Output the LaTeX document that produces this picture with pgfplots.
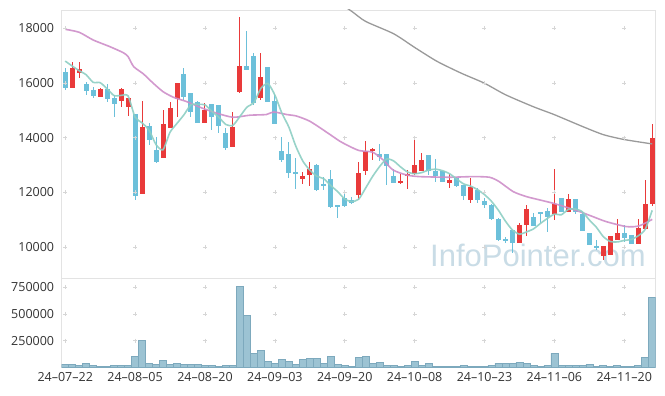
\documentclass[border=0pt]{standalone}
\usepackage{fontspec}
\setmainfont{Open Sans}
\newfontfamily\wmfont{Liberation Sans}
\usepackage{pgfplots}
\usepackage{pgfplotstable}
\pgfplotsset{compat=1.18}
\definecolor{cup}{HTML}{E93A3A}
\definecolor{cdn}{HTML}{6CC0DA}
\definecolor{mafive}{HTML}{8DCFC4}
\definecolor{matwenty}{HTML}{CE8EC9}
\definecolor{malong}{HTML}{9A9A9A}
\definecolor{volf}{HTML}{9CC3D3}
\definecolor{vold}{HTML}{7DA9BD}
\definecolor{framec}{HTML}{E3E3E3}
\definecolor{gridc}{HTML}{D6D6D6}
\definecolor{txt}{HTML}{333333}
\definecolor{wm}{HTML}{C9DCE6}

\pgfplotstableread{
i o h l c
1 15828 16780 15828 16536
2 16353 16780 16170 16500
5 15499 15830 15499 15767
8 15353 15810 15109 15775
9 15109 15438 14804 15438
11 11924 15340 11924 14377
14 13242 15011 13242 14499
15 14364 15292 14364 15072
16 15401 16000 14767 16000
20 14548 15255 14548 15011
24 13670 14926 13670 14402
25 15682 18402 15621 16621
28 15462 17085 15377 16225
34 12494 12734 12300 12605
35 12642 13110 12215 12843
42 11900 13120 11717 12693
43 12785 13885 12650 13522
44 13521 13608 13170 13585
48 12356 12669 12303 12422
49 12580 12833 12130 12675
50 12655 13920 12632 12990
51 12785 13425 12785 13172
55 12347 12682 12144 12443
58 11712 12515 11617 12192
65 10130 10885 10130 10810
66 10800 11530 10410 11395
70 11210 12860 11000 11580
72 11285 11935 11285 11768
77 9670 10030 9520 10030
78 9705 10395 9705 10395
79 10250 11040 10250 10515
82 10125 11035 10125 10695
83 10670 12450 10670 11576
84 11570 14500 11515 13990
}\upcandles

\pgfplotstableread{
i o h l c
0 16414 16536 15743 15828
3 15963 16048 15560 15719
4 15743 15865 15438 15530
6 15767 15950 15316 15414
7 15438 15560 14767 15235
10 14852 14852 11717 11876
12 14410 14524 13730 13925
13 13547 14011 13059 13120
17 16329 16536 15377 15499
18 15621 15621 14767 14950
19 15316 15340 14548 14548
21 15225 15225 14280 14767
22 15195 15195 14182 14438
23 14170 14370 13560 13634
26 16628 17902 16475 16475
27 16987 17109 15194 15280
29 16578 16578 15316 15316
30 15346 15584 14511 14511
31 13511 14035 13122 13183
32 13402 13829 12512 12719
33 12737 13250 12112 12712
36 13000 13035 12059 12085
37 12305 12571 12070 12243
38 12488 12800 11412 11476
39 11536 11536 11048 11475
40 11780 11961 11473 11512
41 11717 11839 11570 11595
45 13410 13770 13160 13292
46 13410 13410 12263 12966
47 12590 12870 12323 12325
52 13350 13350 12632 12785
53 12780 13230 12388 12597
54 12796 12796 12385 12385
56 12527 12563 12204 12240
57 12264 12264 11724 11880
59 12096 12156 11617 11736
60 11677 11796 11425 11533
61 11530 11557 10990 11010
62 11040 11054 10230 10240
63 10310 10381 10150 10235
64 10615 10615 9765 10130
67 11100 11235 10786 10786
68 11270 11270 10860 11220
69 11315 11435 10537 11090
71 11806 11806 11285 11285
73 11768 11768 11200 11285
74 11200 11285 10590 10590
75 10495 10510 10070 10070
76 10030 10250 9885 9950
80 10515 10795 10165 10335
81 10430 10430 10125 10125
}\downcandles

\pgfplotstableread{
i v
0 16800
1 16620
2 16450
3 16300
4 16024
5 16012
6 15787
7 15536
8 15545
9 15526
10 14748
11 14540
12 14274
13 13745
14 13557
15 14196
16 14521
17 14838
18 15204
19 15214
20 15202
21 14955
22 14743
23 14479
24 14450
25 14772
26 15113
27 15282
28 15799
29 15982
30 15560
31 14901
32 14389
33 13689
34 13145
35 12811
36 12591
37 12496
38 12247
39 12022
40 11756
41 11659
42 11749
43 12159
44 12586
45 12944
46 13220
47 13147
48 12927
49 12740
50 12679
51 12720
52 12813
53 12847
54 12791
55 12680
56 12492
57 12309
58 12229
59 12098
60 11916
61 11670
62 11340
63 10945
64 10620
65 10470
66 10550
67 10660
68 10860
69 11045
70 11200
71 11180
72 11375
73 11390
74 11290
75 10990
76 10725
77 10380
78 10200
79 10185
80 10240
81 10275
82 10410
83 10645
84 11340
}\mafivetab

\pgfplotstableread{
i v
0 17963
2 17854
4 17572
6.4 17327
8.3 17108
9 16962
9.8 16597
11.2 16329
12.6 15989
14 15682
15.5 15475
17.4 15316
19.3 15110
21.5 14910
24 14745
26.4 14820
28.8 14845
29.8 14940
31.7 14845
33.1 14790
35 14600
37.4 14200
39.3 13870
40.7 13680
42.1 13525
44 13467
45.5 13185
46.9 12819
48.8 12637
50.7 12574
55 12552
58.3 12574
60.7 12552
62.1 12392
64.1 12026
66 11843
67.9 11722
69.8 11602
71.7 11456
73.6 11295
75.5 11112
77.4 10929
80.3 10746
82.1 10770
84 11010
}\matwentytab

\pgfplotstableread{
i v
38 19150
41 18620
43 18250
47 17800
50 17300
53 16820
55 16560
57 16320
60 15990
63 15570
67 15130
70 14840
74 14410
77 14110
80 13930
84 13770
}\malongtab

\pgfplotstableread{
i v
0 28000
1 28000
2 19000
3 37000
4 19000
5 9000
6 9000
7 19000
8 19000
9 19000
10 103000
11 253000
12 37000
13 28000
14 66000
15 28000
16 37000
17 28000
18 28000
19 28000
20 19000
21 19000
22 9000
23 19000
24 19000
25 759000
26 487000
27 131000
28 159000
29 56000
30 37000
31 75000
32 56000
33 28000
34 75000
35 84000
36 84000
37 37000
38 103000
39 28000
40 19000
41 9000
42 94000
43 103000
44 37000
45 47000
46 19000
47 19000
48 9000
49 19000
50 56000
51 19000
52 37000
53 9000
54 9000
55 9000
56 9000
57 19000
58 9000
59 9000
60 9000
61 19000
62 37000
63 37000
64 37000
65 47000
66 37000
67 19000
68 9000
69 19000
70 131000
71 19000
72 19000
73 19000
74 19000
75 28000
76 9000
77 19000
78 9000
79 19000
80 9000
81 9000
82 19000
83 94000
84 656000
}\voltab

\pgfplotsset{
  chartbase/.style={
    anchor=south west, scale only axis, width=594pt,
    xmin=-0.5, xmax=84.5,
    axis line style={draw=framec, line width=0.8pt},
    major tick length=0pt,
    xtick={0,10,...,80},
    tick label style={font=\fontsize{12.5}{14}\selectfont, text=txt},
    yticklabel style={anchor=east, inner sep=0pt, xshift=-7.4pt},
    xticklabel style={anchor=north, inner sep=0pt, yshift=-4.7pt},
    scaled y ticks=false,
  },
  wick/.style={mark=none, draw=none, forget plot,
    error bars/.cd, y dir=both, y explicit, error mark=none,
    error bar style={line width=1pt, draw=#1}},
  body/.style={mark=none, draw=none, forget plot,
    error bars/.cd, y dir=both, y explicit, error mark=none,
    error bar style={line width=5pt, draw=#1}},
}

\begin{document}
\begin{tikzpicture}[x=1pt,y=1pt]
\useasboundingbox (0,0) rectangle (665,396);
\fill[white] (0,0) rectangle (665,396);
\node[anchor=base west, inner sep=0pt, text=wm, font=\wmfont\fontsize{31}{31}\selectfont] at (430pt,129pt) {InfoPointer.com};

\begin{axis}[chartbase,
  at={(61.7pt,118pt)}, height=268pt,
  ymin=8866, ymax=18669,
  xticklabels={},
  ytick={10000,12000,14000,16000,18000},
  yticklabels={10000,12000,14000,16000,18000},
]
\addplot[only marks, mark=+, mark size=2pt, color=gridc, line width=0.6pt] coordinates {
(0,10000)(0,12000)(0,14000)(0,16000)(0,18000)
(10,10000)(10,12000)(10,14000)(10,16000)(10,18000)
(20,10000)(20,12000)(20,14000)(20,16000)(20,18000)
(30,10000)(30,12000)(30,14000)(30,16000)(30,18000)
(40,10000)(40,12000)(40,14000)(40,16000)(40,18000)
(50,10000)(50,12000)(50,14000)(50,16000)(50,18000)
(60,10000)(60,12000)(60,14000)(60,16000)(60,18000)
(70,10000)(70,12000)(70,14000)(70,16000)(70,18000)
(80,10000)(80,12000)(80,14000)(80,16000)(80,18000)
};
% wicks
\addplot[wick=cdn] table[x=i, y expr={(\thisrow{h}+\thisrow{l})/2}, y error expr={(\thisrow{h}-\thisrow{l})/2}] {\downcandles};
\addplot[wick=cup] table[x=i, y expr={(\thisrow{h}+\thisrow{l})/2}, y error expr={(\thisrow{h}-\thisrow{l})/2}] {\upcandles};
% bodies
\addplot[body=cdn] table[x=i, y expr={(\thisrow{o}+\thisrow{c})/2}, y error expr={max(abs(\thisrow{o}-\thisrow{c})/2,18)}] {\downcandles};
\addplot[body=cup] table[x=i, y expr={(\thisrow{o}+\thisrow{c})/2}, y error expr={max(abs(\thisrow{o}-\thisrow{c})/2,18)}] {\upcandles};
% moving averages
\addplot[malong, line width=1.3pt, smooth, tension=0.4, mark=none] table[x=i,y=v] {\malongtab};
\addplot[matwenty, line width=1.6pt, smooth, tension=0.4, mark=none, opacity=0.9] table[x=i,y=v] {\matwentytab};
\addplot[mafive, line width=1.6pt, smooth, tension=0.4, mark=none, opacity=0.9] table[x=i,y=v] {\mafivetab};
\end{axis}

\begin{axis}[chartbase,
  at={(61.7pt,28.7pt)}, height=89.3pt,
  ymin=0, ymax=837000,
  xticklabels={24--07--22,24--08--05,24--08--20,24--09--03,24--09--20,24--10--08,24--10--23,24--11--06,24--11--20},
  ytick={250000,500000,750000},
  yticklabels={250000,500000,750000},
]
\addplot[only marks, mark=+, mark size=2pt, color=gridc, line width=0.6pt] coordinates {
(0,250000)(0,500000)(0,750000)
(10,250000)(10,500000)(10,750000)
(20,250000)(20,500000)(20,750000)
(30,250000)(30,500000)(30,750000)
(40,250000)(40,500000)(40,750000)
(50,250000)(50,500000)(50,750000)
(60,250000)(60,500000)(60,750000)
(70,250000)(70,500000)(70,750000)
(80,250000)(80,500000)(80,750000)
};
\addplot[ybar, bar width=1, bar shift=0pt, fill=volf, draw=vold, line width=0.6pt] table[x=i,y=v] {\voltab};
\end{axis}
\end{tikzpicture}
\end{document}
